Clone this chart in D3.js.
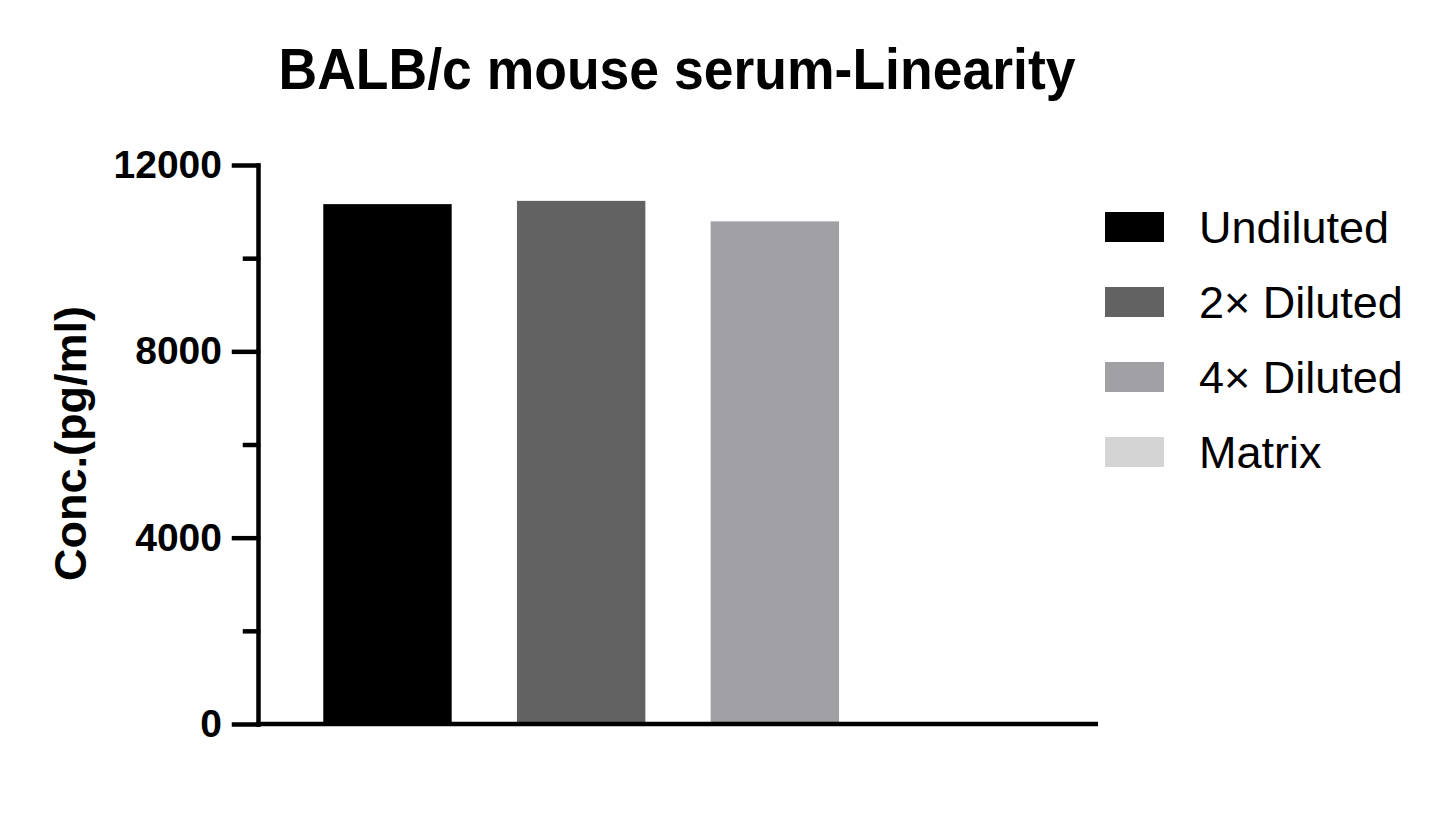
<!DOCTYPE html>
<html>
<head>
<meta charset="utf-8">
<script src="https://cdn.jsdelivr.net/npm/d3@7"></script>
<style>
  body { margin: 0; background: #fff; }
  text { font-family: "Liberation Sans", Arial, sans-serif; }
</style>
</head>
<body>
<div id="canvas"></div>
<script>
const categories = ["Undiluted", "2× Diluted", "4× Diluted", "Matrix"];
const values = [11160, 11230, 10790, 0];
const colors = ["#000000", "#626262", "#a1a0a4", "#d4d4d4"];
const majorTicks = [0, 4000, 8000, 12000];
const minorTicks = [2000, 6000, 10000];

const width = 1445;
const height = 813;
const margin = { top: 165, left: 258, bottom: 89, right: 347 };
const iwidth = width - margin.left - margin.right;
const iheight = height - margin.top - margin.bottom;

const svg = d3.select("#canvas").append("svg")
  .attr("width", width)
  .attr("height", height);

// title
svg.append("text")
  .attr("x", 677)
  .attr("y", 89)
  .attr("text-anchor", "middle")
  .attr("font-size", 57)
  .attr("font-weight", "bold")
  .attr("textLength", 797)
  .attr("lengthAdjust", "spacingAndGlyphs")
  .text("BALB/c mouse serum-Linearity");

const g = svg.append("g").attr("transform", `translate(${margin.left},${margin.top})`);

const y = d3.scaleLinear().domain([0, 12000]).range([iheight, 0]);
const x = d3.scaleBand().domain(categories).range([0, iwidth]).paddingInner(0.337).paddingOuter(0.337);

g.selectAll("rect.bar").data(categories).enter().append("rect")
  .attr("class", "bar")
  .attr("x", d => x(d))
  .attr("y", (d, i) => y(values[i]))
  .attr("width", x.bandwidth())
  .attr("height", (d, i) => iheight - y(values[i]))
  .style("fill", (d, i) => colors[i]);

// minor ticks
const yMinor = g.append("g")
  .call(d3.axisLeft(y).tickValues(minorTicks).tickSize(13).tickSizeOuter(0).tickFormat(""));
yMinor.select(".domain").remove();

// major ticks + axis line
const yAxis = g.append("g")
  .call(d3.axisLeft(y).tickValues(majorTicks).tickSize(24).tickSizeOuter(0).tickPadding(12).tickFormat(d3.format("d")));
yAxis.selectAll("text")
  .attr("font-size", 39)
  .attr("font-weight", "bold")
  .attr("fill", "#000")
  .style("font-family", "'Liberation Sans', Arial, sans-serif");

const xAxis = g.append("g")
  .attr("transform", `translate(0,${iheight})`)
  .call(d3.axisBottom(x).tickSize(0).tickSizeOuter(0).tickFormat(""));
xAxis.selectAll(".tick").remove();

g.selectAll(".domain, .tick line")
  .attr("stroke", "#000")
  .attr("stroke-width", 4.5)
  .attr("stroke-linecap", "square");
xAxis.selectAll(".domain").attr("stroke-linecap", "butt").attr("d", `M-2,0H${iwidth}`);

// y axis title
svg.append("text")
  .attr("transform", `translate(86,${margin.top + iheight / 2 - 1}) rotate(-90)`)
  .attr("text-anchor", "middle")
  .attr("font-size", 45)
  .attr("font-weight", "bold")
  .text("Conc.(pg/ml)");

// legend
const legend = svg.append("g").attr("transform", "translate(1105,212)");
const items = legend.selectAll("g").data(categories).enter().append("g")
  .attr("transform", (d, i) => `translate(0,${i * 75})`);
items.append("rect")
  .attr("width", 59)
  .attr("height", 30)
  .style("fill", (d, i) => colors[i]);
items.append("text")
  .attr("x", 94)
  .attr("y", 15)
  .attr("dy", "0.36em")
  .attr("font-size", 45)
  .text(d => d);
</script>
</body>
</html>
